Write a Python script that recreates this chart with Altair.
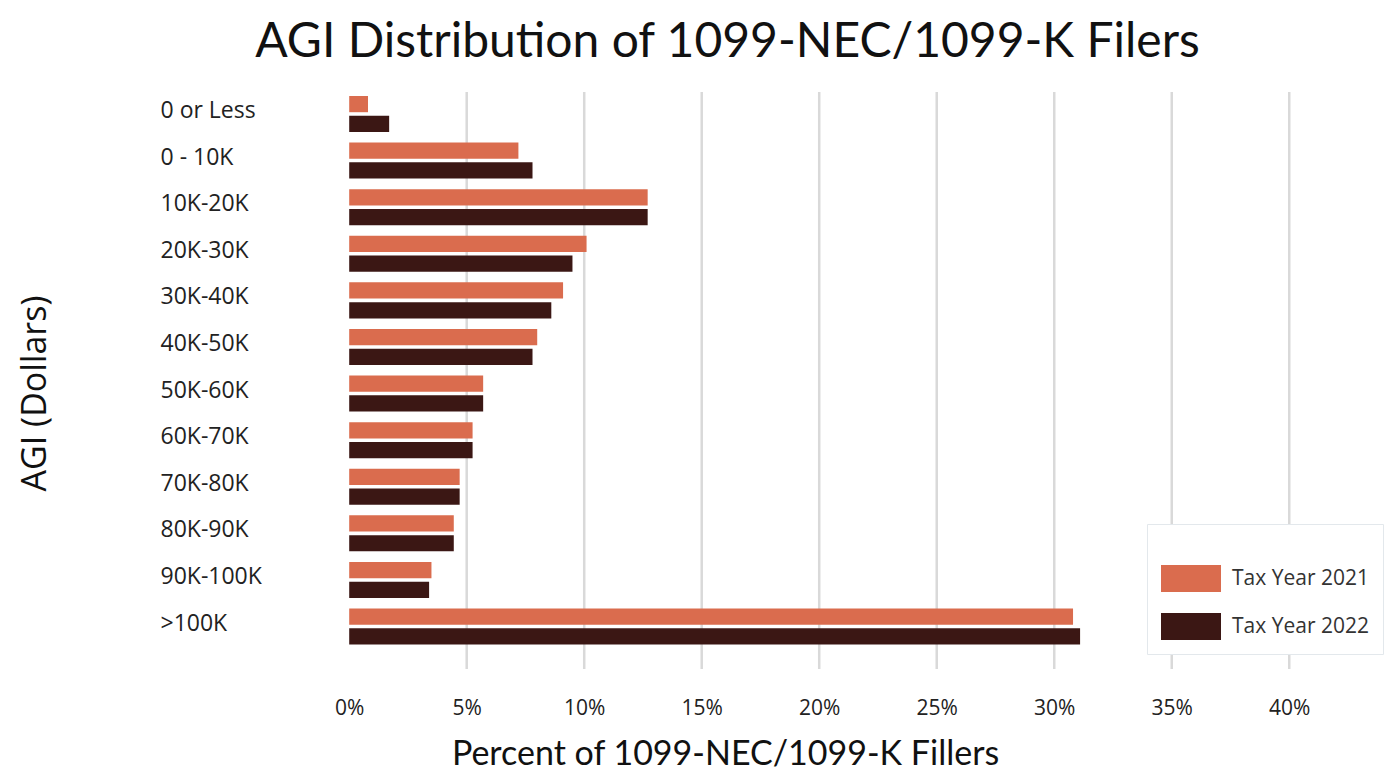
import altair as alt
import pandas as pd

categories = ["0 or Less", "0 - 10K", "10K-20K", "20K-30K", "30K-40K", "40K-50K",
              "50K-60K", "60K-70K", "70K-80K", "80K-90K", "90K-100K", ">100K"]
pct_2021 = [0.8, 7.2, 12.7, 10.1, 9.1, 8.0, 5.7, 5.25, 4.7, 4.45, 3.5, 30.8]
pct_2022 = [1.7, 7.8, 12.7, 9.5, 8.6, 7.8, 5.7, 5.25, 4.7, 4.45, 3.4, 31.1]
series = ["Tax Year 2021", "Tax Year 2022"]
colors = ["#DA6C4E", "#3B1714"]
x_ticks = [0, 5, 10, 15, 20, 25, 30, 35, 40]
grid_vals = [5, 10, 15, 20, 25, 30, 35, 40]

rows = []
for c, a, b in zip(categories, pct_2021, pct_2022):
    rows.append({"agi": c, "series": series[0], "pct": a})
    rows.append({"agi": c, "series": series[1], "pct": b})
df = pd.DataFrame(rows)
grid_df = pd.DataFrame({"pct": grid_vals})

FONT = "Open Sans"
TFONT = "Lato"
xscale = alt.Scale(domain=[-1.2, 42.5], nice=False, zero=False)
xaxis = alt.Axis(values=x_ticks, labelExpr="datum.value + '%'", grid=False,
                 domain=False, ticks=False, tickSize=0, labelPadding=28,
                 labelFontSize=21, labelFont=FONT, labelColor="#222222",
                 title="Percent of 1099-NEC/1099-K Fillers", titleFont=TFONT,
                 titleFontSize=34, titleFontWeight="normal", titleColor="#111111",
                 titleX=404, titleY=95, titleAlign="center",
                 titleBaseline="alphabetic")

rules = alt.Chart(grid_df).mark_rule(color="#D9D9D9", strokeWidth=2.5).encode(
    x=alt.X("pct:Q", scale=xscale, axis=xaxis)
)

bars = alt.Chart(df).mark_bar().encode(
    y=alt.Y("agi:N", sort=categories,
            scale=alt.Scale(paddingInner=0.227, paddingOuter=0.305, align=0.14),
            axis=alt.Axis(title="AGI (Dollars)", labelAlign="left", labelPadding=161,
                          labelOffset=-3,
                          labelFontSize=23, labelFont=FONT, labelColor="#222222",
                          domain=False, ticks=False, tickSize=0,
                          titleFont=FONT, titleFontSize=34, titleFontWeight="normal",
                          titleColor="#111111", titleX=-286, titleY=301,
                          titleAlign="center", titleBaseline="middle", titleAngle=270)),
    yOffset=alt.YOffset("series:N", sort=series, scale=alt.Scale(paddingInner=0.18)),
    x=alt.X("pct:Q", scale=xscale, axis=xaxis),
    color=alt.Color("series:N", sort=series,
                    scale=alt.Scale(domain=series, range=colors),
                    legend=alt.Legend(orient="none", legendX=826, legendY=432,
                                      title=" ", titleFontSize=14, titlePadding=13,
                                      fillColor="white", strokeColor="#E3E8EC",
                                      padding=14,
                                      symbolType="M-1,-0.45H1V0.45H-1Z",
                                      symbolSize=3600, symbolStrokeWidth=0,
                                      symbolOpacity=1, clipHeight=27, rowPadding=21,
                                      labelOffset=11, labelFontSize=21, labelFont=FONT,
                                      labelColor="#333333")),
)

chart = alt.layer(rules, bars).properties(
    width=1027, height=577,
    padding={"left": 10, "top": 10, "right": 0, "bottom": 2},
    title=alt.TitleParams("AGI Distribution of 1099-NEC/1099-K Filers", fontSize=48,
                          font=TFONT, fontWeight="normal", color="#111111",
                          anchor="middle", dx=-107, offset=24),
).configure_view(stroke=None)

chart.save("out.html", embed_options={"renderer": "svg", "actions": False})
